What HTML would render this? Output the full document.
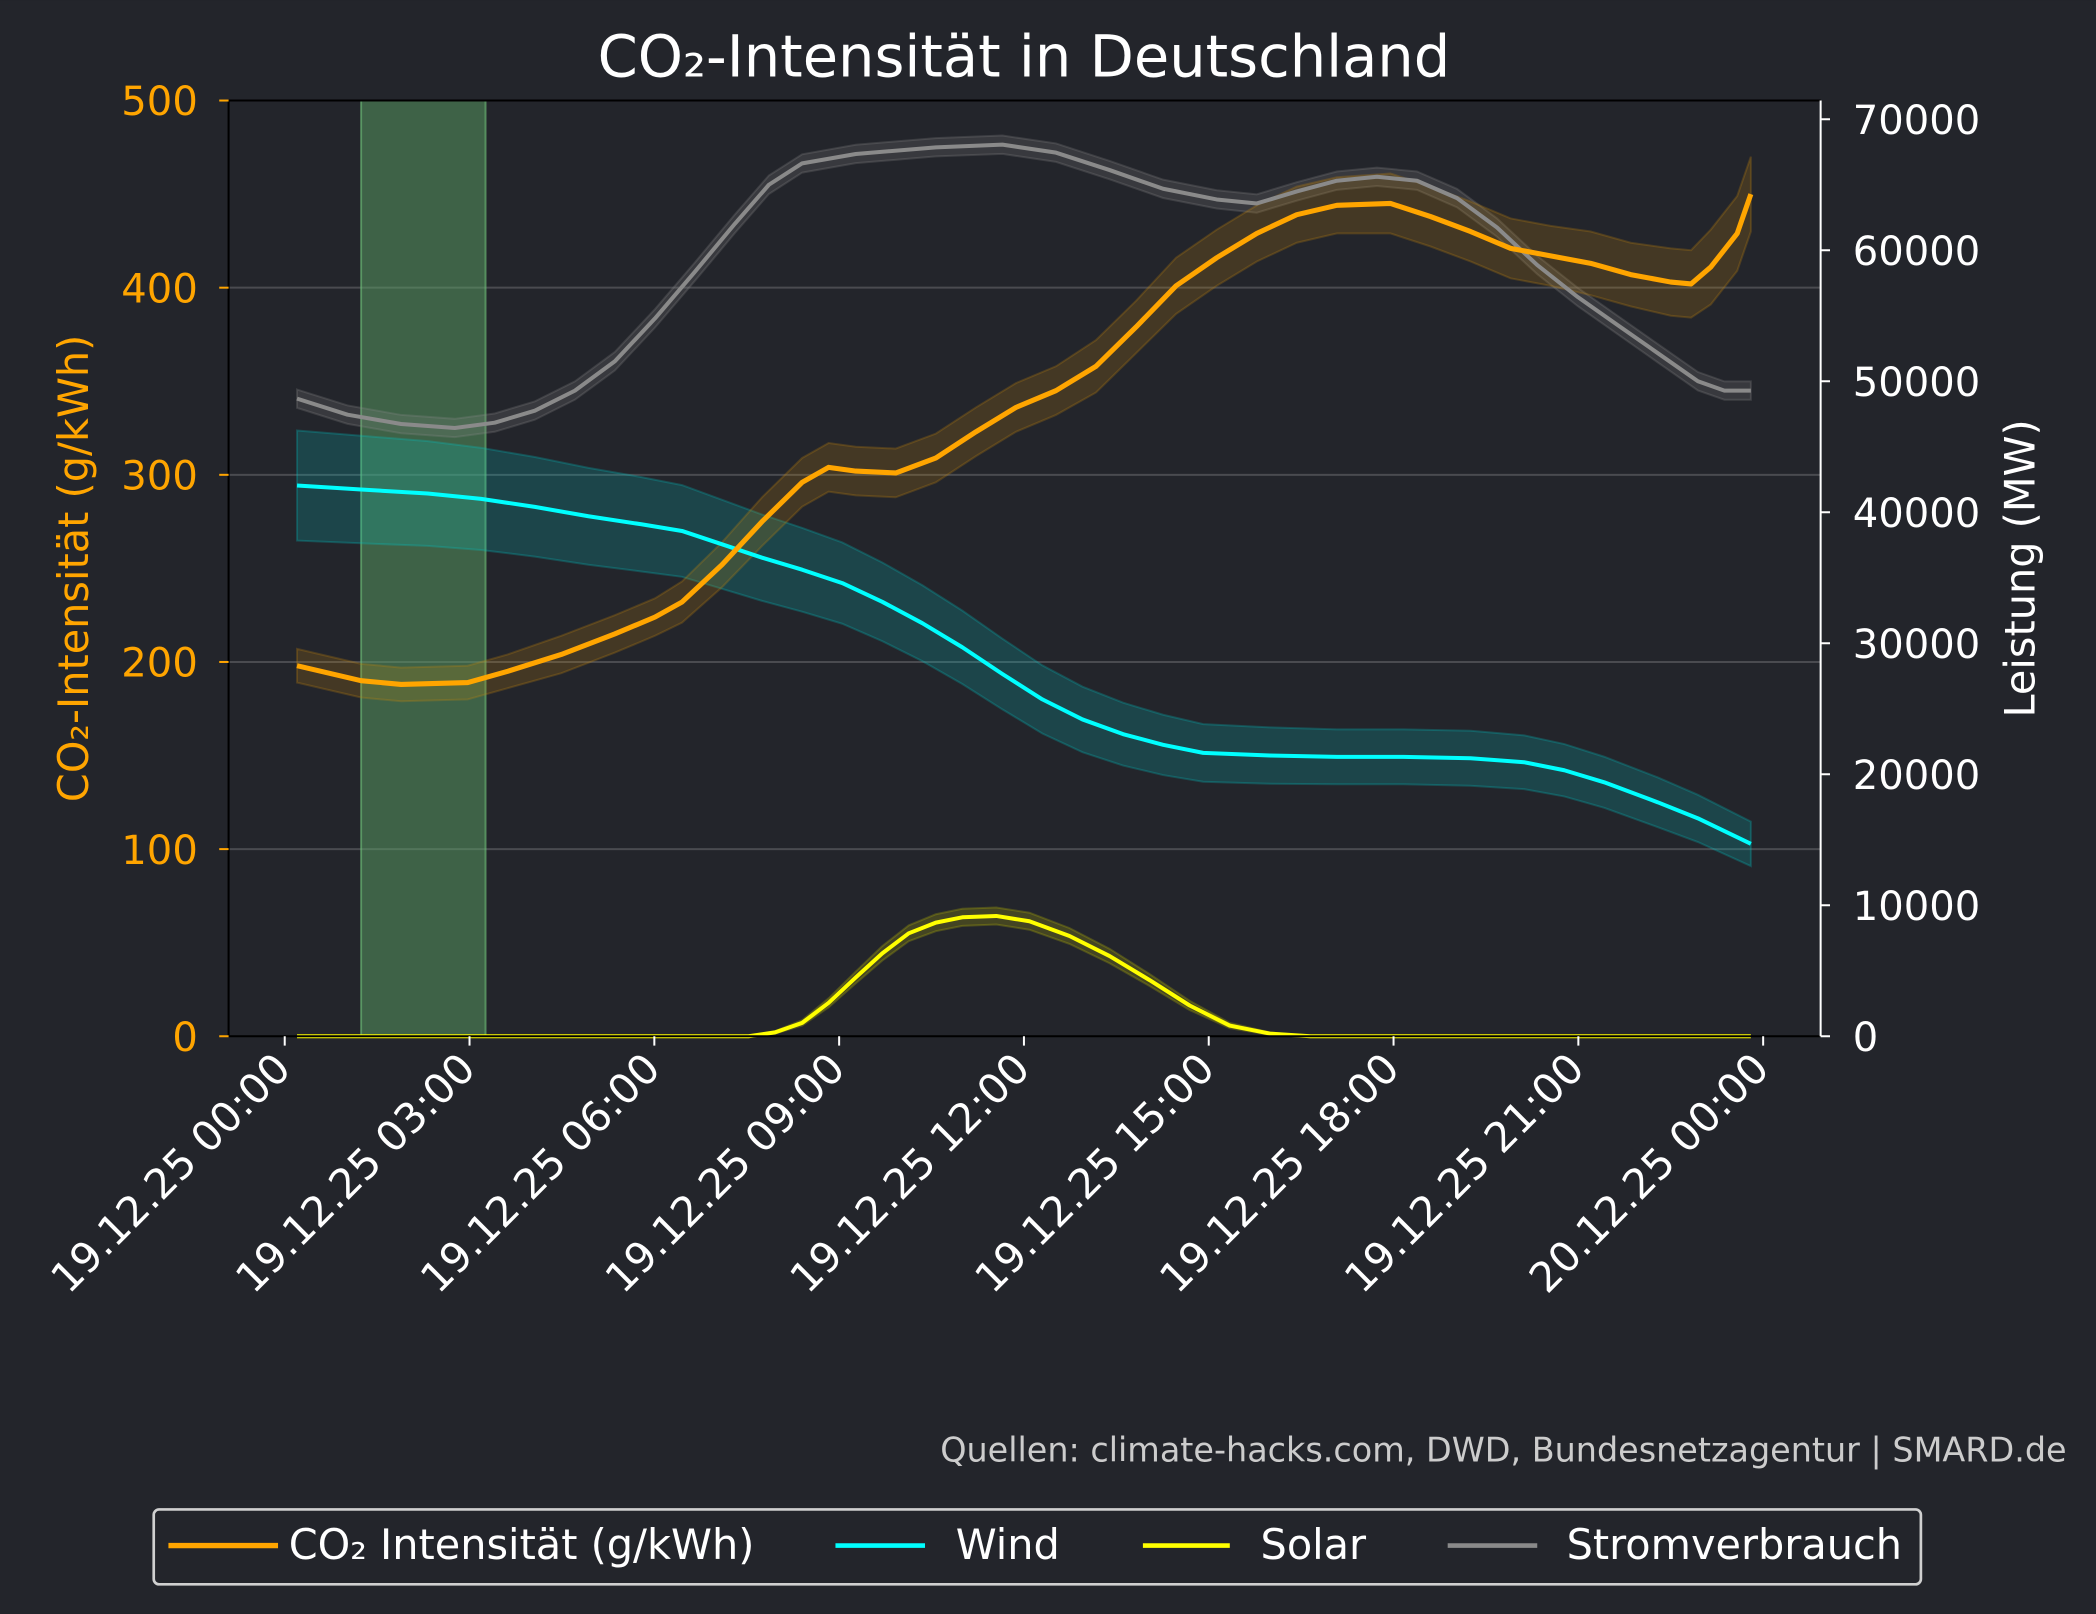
<!DOCTYPE html>
<html><head><meta charset="utf-8"><style>
html,body{margin:0;padding:0;background:#23252b;}
svg{display:block;font-family:"DejaVu Sans","Liberation Sans",sans-serif;}
</style></head><body>
<svg id="chart" width="2096" height="1614" viewBox="0 0 1568 1207" xmlns="http://www.w3.org/2000/svg">
<rect x="0" y="0" width="1568" height="1207" fill="#23252b"/>
<text x="766" y="57" fill="#ffffff" font-size="43" text-anchor="middle">CO₂-Intensität in Deutschland</text>
<g id="plot"></g>
<text transform="translate(66,425) rotate(-90)" fill="#ffa500" font-size="31" text-anchor="middle">CO₂-Intensität (g/kWh)</text>
<text transform="translate(1522,425) rotate(-90)" fill="#ffffff" font-size="31" text-anchor="middle">Leistung (MW)</text>
<text x="1546" y="1093" fill="#cccccc" font-size="25" text-anchor="end">Quellen: climate-hacks.com, DWD, Bundesnetzagentur | SMARD.de</text>
<g>
<rect x="115" y="1129" width="1322" height="56" rx="4" fill="#23252b" stroke="#d0d0d0" stroke-width="2"/>
<g><line x1="126" y1="1156" x2="208" y2="1156" stroke="#ffa500" stroke-width="4"/><text x="216" y="1166" fill="#fff" font-size="31">CO₂ Intensität (g/kWh)</text></g>
<g><line x1="625" y1="1156" x2="692" y2="1156" stroke="#00ffff" stroke-width="3.5"/><text x="715" y="1166" fill="#fff" font-size="31">Wind</text></g>
<g><line x1="855" y1="1156" x2="920" y2="1156" stroke="#ffff00" stroke-width="3.5"/><text x="943" y="1166" fill="#fff" font-size="31">Solar</text></g>
<g><line x1="1083" y1="1156" x2="1150" y2="1156" stroke="#8a8a8a" stroke-width="3.5"/><text x="1172" y="1166" fill="#fff" font-size="31">Stromverbrauch</text></g>
</g>
</svg>
<script>
const xTickLabels = ["19.12.25 00:00","19.12.25 03:00","19.12.25 06:00","19.12.25 09:00","19.12.25 12:00","19.12.25 15:00","19.12.25 18:00","19.12.25 21:00","20.12.25 00:00"];
const leftTicks = [0,100,200,300,400,500];
const rightTicks = [0,10000,20000,30000,40000,50000,60000,70000];
const highlightSpan = [1.24, 3.26];

const co2Hours = [0.2,1.24,1.89,2.97,3.62,4.49,5.36,6.01,6.45,7.10,7.75,8.40,8.83,9.27,9.92,10.57,11.22,11.87,12.52,13.17,13.82,14.47,15.13,15.78,16.43,17.08,17.95,18.60,19.25,19.90,20.55,21.20,21.85,22.50,22.83,23.15,23.58,23.80];
const co2Values = [198,190,188,189,195,204,215,224,232,252,275,296,304,302,301,309,323,336,345,358,379,401,416,429,439,444,445,438,430,421,417,413,407,403,402,411,429,450];
const co2Err = [9,9,9,9,9,10,10,10,11,12,13,13,13,13,13,13,13,13,13,14,14,15,15,15,15,15,16,16,16,16,16,17,17,18,18,20,20,20];

const windHours = [0.2,1.24,2.32,3.19,4.06,4.93,5.79,6.45,7.10,7.75,8.40,9.05,9.70,10.35,11.00,11.65,12.30,12.95,13.61,14.26,14.91,15.99,17.08,18.16,19.25,20.12,20.77,21.42,22.29,22.94,23.80];
const windValues = [42040,41735,41430,41020,40410,39690,39080,38570,37550,36530,35610,34590,33160,31530,29690,27650,25710,24180,23060,22240,21630,21430,21330,21330,21220,20920,20310,19390,17860,16630,14690];
const windErr = [4200,4100,4000,3900,3800,3700,3600,3500,3400,3300,3200,3100,3000,2900,2800,2700,2600,2500,2400,2300,2200,2150,2100,2100,2100,2050,2000,1950,1900,1800,1700];

const solarHours = [0.2,7.53,7.96,8.40,8.83,9.27,9.70,10.13,10.57,11.00,11.55,12.09,12.74,13.39,14.04,14.69,15.34,15.99,16.65,23.8];
const solarValues = [0,0,300,1020,2550,4490,6330,7860,8670,9080,9180,8780,7650,6120,4290,2350,820,200,0,0];
const solarErr = [0,0,100,200,350,450,550,600,650,650,650,650,600,550,450,350,200,100,0,0];

const consHours = [0.2,1.02,1.89,2.76,3.41,4.06,4.71,5.36,6.01,6.66,7.31,7.86,8.40,9.27,10.57,11.65,12.52,13.39,14.26,15.13,15.78,16.43,17.08,17.73,18.38,19.03,19.68,20.33,20.99,21.64,22.29,22.94,23.37,23.80];
const consValues = [48670,47450,46730,46430,46840,47760,49290,51530,54800,58370,62040,65000,66630,67350,67860,68060,67450,66120,64690,63880,63570,64490,65310,65610,65310,63980,61730,58880,56430,54290,52140,50000,49290,49290];
const consErr = [700,700,700,700,700,700,700,700,700,700,700,700,700,700,700,700,700,700,700,700,700,700,700,700,700,700,700,700,700,700,700,700,700,700];

const NS = "http://www.w3.org/2000/svg";
const L = 171, R = 1362, T = 75, B = 775;
const X0 = 213, X1 = 1319;
const xS = h => X0 + (X1 - X0) * h / 24;
const yL = v => B - (B - T) * v / 500;
const yR = v => B - (B - 89) * v / 70000;
const plot = document.getElementById('plot');
function mk(tag, attrs, parent) {
  const e = document.createElementNS(NS, tag);
  for (const k in attrs) e.setAttribute(k, attrs[k]);
  (parent || plot).appendChild(e);
  return e;
}
leftTicks.forEach(v => {
  if (v > 0 && v < 500) {
    const g = mk('line', {x1: L, x2: R, y1: yL(v), y2: yL(v), stroke: '#4a4b50', 'stroke-width': 1.5});
    
    
  }
});
const span = mk('rect', {x: xS(highlightSpan[0]), y: T, width: xS(highlightSpan[1]) - xS(highlightSpan[0]), height: B - T, fill: 'rgba(90,160,100,0.5)', stroke: 'rgba(110,190,120,0.6)', 'stroke-width': 1.5});



function band(hours, vals, err, ys, color, name) {
  let d = '';
  hours.forEach((h, i) => { d += (i ? 'L' : 'M') + xS(h).toFixed(1) + ',' + ys(vals[i] + err[i]).toFixed(1); });
  for (let i = hours.length - 1; i >= 0; i--) d += 'L' + xS(hours[i]).toFixed(1) + ',' + ys(Math.max(0, vals[i] - err[i])).toFixed(1);
  const p = mk('path', {d: d + 'Z', fill: color, 'fill-opacity': 0.2, stroke: color, 'stroke-opacity': 0.25, 'stroke-width': 1.5});
  
  
}
function line(hours, vals, ys, color, w, name) {
  const pts = hours.map((h, i) => xS(h).toFixed(1) + ',' + ys(vals[i]).toFixed(1)).join(' ');
  const p = mk('polyline', {points: pts, fill: 'none', stroke: color, 'stroke-width': w, 'stroke-linejoin': 'round'});
  
  
}
band(consHours, consValues, consErr, yR, '#8a8a8a', 'consumption-band');
band(windHours, windValues, windErr, yR, '#00c8c8', 'wind-band');
band(solarHours, solarValues, solarErr, yR, '#c8c800', 'solar-band');
band(co2Hours, co2Values, co2Err, yL, '#c8870a', 'co2-band');
line(consHours, consValues, yR, '#8a8a8a', 3, 'consumption-line');
line(windHours, windValues, yR, '#00ffff', 3, 'wind-line');
line(solarHours, solarValues, yR, '#ffff00', 3, 'solar-line');
line(co2Hours, co2Values, yL, '#ffa500', 3.8, 'co2-line');

[[L, T, R, T], [L, B, R, B], [L, T, L, B]].forEach(s => {
  const e = mk('line', {x1: s[0], y1: s[1], x2: s[2], y2: s[3], stroke: '#000', 'stroke-width': 1.5});
  
  
});
const rs = mk('line', {x1: R, y1: T, x2: R, y2: B, stroke: '#ffffff', 'stroke-width': 1.5});



leftTicks.forEach(v => {
  const y = yL(v);
  const t = mk('line', {x1: L - 7, x2: L, y1: y, y2: y, stroke: '#ffa500', 'stroke-width': 1.5});
  
  
  const tx = mk('text', {x: L - 23, y: y + 11, fill: '#ffa500', 'font-size': 30, 'text-anchor': 'end'});
  tx.textContent = v;
  
  
});
rightTicks.forEach(v => {
  const y = yR(v);
  const t = mk('line', {x1: R, x2: R + 7, y1: y, y2: y, stroke: '#ffffff', 'stroke-width': 1.5});
  
  
  const tx = mk('text', {x: R + 24, y: y + 11, fill: '#ffffff', 'font-size': 30, 'text-anchor': 'start'});
  tx.textContent = v;
  
  
});
xTickLabels.forEach((lab, i) => {
  const x = xS(i * 3);
  const t = mk('line', {x1: x, x2: x, y1: B, y2: B + 7, stroke: '#ffffff', 'stroke-width': 1.5});
  
  
  const tx = mk('text', {transform: 'translate(' + (x + 6) + ',' + (B + 26) + ') rotate(-45)', fill: '#ffffff', 'font-size': 31, 'text-anchor': 'end'});
  tx.textContent = lab;
  
  
});
</script>
</body></html>
